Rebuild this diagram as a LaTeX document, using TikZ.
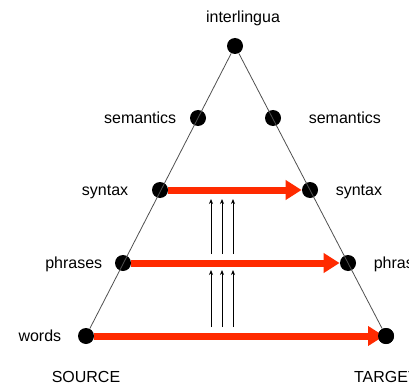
\documentclass[tikz,border=0pt]{standalone}
\usepackage{fontspec}
\setmainfont{Liberation Sans}
\usetikzlibrary{arrows.meta, positioning}
\definecolor{cred}{HTML}{FF2A00}
\definecolor{cline}{HTML}{505050}
\tikzset{
  every picture/.style={line width=0.8pt},
  dot/.style={circle, fill=black, minimum size=16pt, inner sep=0pt},
  lbl/.style={font=\fontsize{16}{19}\selectfont, inner sep=0pt, text height=0.72em, text depth=0.2em, yshift=-3pt},
  transfer/.style={-{Triangle[length=16pt, width=19pt]}, draw=cred, line width=7pt},
  lift/.style={-{Stealth[length=5pt, width=4pt]}, line width=0.8pt},
}

\begin{document}
\begin{tikzpicture}[x=1pt, y=-1pt]
  \useasboundingbox (0,0) rectangle (409,385);
  \node[dot] (top) at (235,46) {};
  \foreach \n/\xl/\xr/\y in {sem/198/273/118, syn/160/310/190, phr/123/348/263, wrd/86/386/336} {
    \node[dot] (\n-l) at (\xl,\y) {};
    \node[dot] (\n-r) at (\xr,\y) {};
  }
  \draw[cline] (wrd-l) -- (top) -- (wrd-r);
  \node[lbl, above=16pt of top, xshift=8pt] (ilbl) {interlingua};
  \node[lbl, left=13pt of sem-l] (sem-ll) {semantics};
  \node[lbl, right=27pt of sem-r] (sem-rl) {semantics};
  \node[lbl, left=23pt of syn-l] (syn-ll) {syntax};
  \node[lbl, right=17pt of syn-r] (syn-rl) {syntax};
  \node[lbl, left=12pt of phr-l] (phr-ll) {phrases};
  \node[lbl, right=17pt of phr-r] (phr-rl) {phrases};
  \node[lbl, left=16pt of wrd-l] (wrd-ll) {words};
  \node[lbl, below=41pt of wrd-l.center, anchor=center] (src) {SOURCE};
  \node[lbl, below=41pt of wrd-r.center, anchor=center] (tgt) {TARGET};
  \draw[transfer] (syn-l) -- (syn-r);
  \draw[transfer] (phr-l) -- (phr-r);
  \draw[transfer] (wrd-l) -- ([xshift=-2pt]wrd-r.center);
  \node[dot] at (wrd-r) {};
  \coordinate (up1) at (222,199);
  \coordinate (lo1) at (222,254);
  \coordinate (up2) at (222,270);
  \coordinate (lo2) at (222,327);
  \foreach \dx in {-11,0,11} {
    \draw[lift] ([xshift=\dx pt]lo1) -- ([xshift=\dx pt]up1);
    \draw[lift] ([xshift=\dx pt]lo2) -- ([xshift=\dx pt]up2);
  }
\end{tikzpicture}
\end{document}
